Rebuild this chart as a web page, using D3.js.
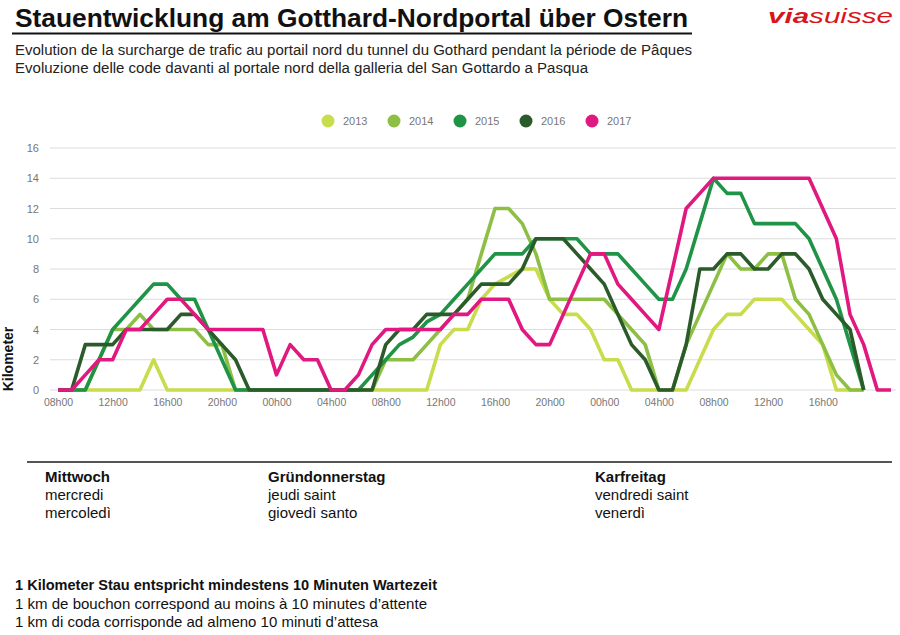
<!DOCTYPE html>
<html>
<head>
<meta charset="utf-8">
<script src="https://cdn.jsdelivr.net/npm/d3@7"></script>
<style>
  html, body { margin: 0; padding: 0; background: #fff; }
  svg { display: block; font-family: "Liberation Sans", Arial, Helvetica, sans-serif; }
</style>
</head>
<body>
<script>
// ---------- DATA ----------
const years = ["2013", "2014", "2015", "2016", "2017"];
const colors = ["#c8dc4c", "#8cbf44", "#1f9446", "#2b5b2a", "#e0187f"];

// hourly values (km), index 0 = Wednesday 08h00
const v2013 = [0,0,0,0,0,0,0,2,0,0,
  0,0,0,0,0,0,0,0,0,0,
  0,0,0,0,0,0,0,0,3,4,
  4,6,7,7.5,8,8,6,5,5,4,
  2,2,0,0,0,0,0,2,4,5,
  5,6,6,6,5,4,3,0,0,0];
const v2014 = [0,0,0,2,4,4,5,4,4,4,
  4,3,3,0,0,0,0,0,0,0,
  0,0,0,0,2,2,2,3,4,5,
  6,9,12,12,11,9,6,6,6,6,
  6,5,4,3,0,0,3,5,7,9,
  8,8,9,9,6,5,3,1,0,0];
const v2015 = [0,0,0,2,4,5,6,7,7,6,
  6,4,2,0,0,0,0,0,0,0,
  0,0,0,1,2,3,3.5,4.5,5,6,
  7,8,9,9,9,10,10,10,10,9,
  9,9,8,7,6,6,8,11,14,13,
  13,11,11,11,11,10,8,6,3,0];
const v2016 = [0,0,3,3,3,4,4,4,4,5,
  5,4,3,2,0,0,0,0,0,0,
  0,0,0,0,3,4,4,5,5,5,
  6,7,7,7,8,10,10,10,9,8,
  7,5,3,2,0,0,3,8,8,9,
  9,8,8,9,9,8,6,5,4,0];
const v2017 = [0,0,1,2,2,4,4,5,6,6,
  5,4,4,4,4,4,1,3,2,2,
  0,0,1,3,4,4,4,4,4,5,
  5,6,6,6,4,3,3,5,7,9,
  9,7,6,5,4,8,12,13,14,14,
  14,14,14,14,14,14,12,10,5,3,
  0,0];
const seriesValues = [v2013, v2014, v2015, v2016, v2017];

const xTickLabels = ["08h00","12h00","16h00","20h00","00h00","04h00","08h00","12h00",
  "16h00","20h00","00h00","04h00","08h00","12h00","16h00"];
const yTicks = [0, 2, 4, 6, 8, 10, 12, 14, 16];

const days = [
  { de: "Mittwoch", fr: "mercredi", it: "mercoledì" },
  { de: "Gründonnerstag", fr: "jeudi saint", it: "giovedì santo" },
  { de: "Karfreitag", fr: "vendredi saint", it: "venerdì" }
];

// ---------- DRAW ----------
const W = 900, H = 635;
const svg = d3.select("body").append("svg").attr("width", W).attr("height", H);
svg.append("rect").attr("width", W).attr("height", H).attr("fill", "#fff");

// Title
svg.append("text").attr("x", 15).attr("y", 27)
  .attr("font-size", 26).attr("font-weight", "bold").attr("fill", "#111")
  .attr("textLength", 673).attr("lengthAdjust", "spacingAndGlyphs")
  .text("Stauentwicklung am Gotthard-Nordportal über Ostern");
svg.append("line").attr("x1", 12).attr("x2", 692).attr("y1", 33.5).attr("y2", 33.5)
  .attr("stroke", "#111").attr("stroke-width", 2.2);

// Logo
const logo = svg.append("text").attr("x", 768).attr("y", 23)
  .attr("font-size", 21).attr("font-weight", "bold").attr("font-style", "italic")
  .attr("fill", "#d9151c").attr("textLength", 125).attr("lengthAdjust", "spacingAndGlyphs");
logo.append("tspan").text("via");
logo.append("tspan").attr("font-weight", "normal").text("suisse");

// Subtitles
svg.append("text").attr("x", 15).attr("y", 55).attr("font-size", 14).attr("fill", "#222")
  .attr("textLength", 677).attr("lengthAdjust", "spacingAndGlyphs")
  .text("Evolution de la surcharge de trafic au portail nord du tunnel du Gothard pendant la période de Pâques");
svg.append("text").attr("x", 15).attr("y", 73).attr("font-size", 14).attr("fill", "#222")
  .attr("textLength", 573).attr("lengthAdjust", "spacingAndGlyphs")
  .text("Evoluzione delle code davanti al portale nord della galleria del San Gottardo a Pasqua");

// Scales
const nPts = v2017.length;
const x = d3.scaleLinear().domain([0, nPts - 1]).range([58, 891]);
const y = d3.scaleLinear().domain([0, 16]).range([390, 148]);

// Grid
svg.append("g").selectAll("line").data(yTicks).join("line")
  .attr("x1", 50).attr("x2", 896)
  .attr("y1", d => y(d)).attr("y2", d => y(d))
  .attr("stroke", "#dcdcdc").attr("stroke-width", 1);

// Y axis labels
const yAxis = d3.axisLeft(y).tickValues(yTicks).tickSize(0).tickPadding(0);
const gy = svg.append("g").attr("transform", "translate(39,0)").call(yAxis);
gy.select(".domain").remove();
gy.selectAll("text").attr("font-size", 11).attr("fill", "#777")
  .attr("font-family", "'Liberation Sans', Arial, sans-serif");

// X axis labels
const xTickVals = xTickLabels.map((d, i) => i * 4);
const xAxis = d3.axisBottom(x).tickValues(xTickVals)
  .tickFormat((d, i) => xTickLabels[i]).tickSize(0).tickPadding(0);
const gx = svg.append("g").attr("transform", "translate(0,399)").call(xAxis);
gx.select(".domain").remove();
gx.selectAll("text").attr("font-size", 10.5).attr("fill", "#777")
  .attr("font-family", "'Liberation Sans', Arial, sans-serif");

// Y axis title
svg.append("text").attr("transform", "translate(13,359) rotate(-90)")
  .attr("text-anchor", "middle").attr("font-size", 14).attr("font-weight", "bold")
  .attr("fill", "#111").text("Kilometer");

// Lines
const line = d3.line().x((d, i) => x(i)).y(d => y(d));
svg.append("g").selectAll("path").data(seriesValues).join("path")
  .attr("d", d => line(d))
  .attr("fill", "none")
  .attr("stroke", (d, i) => colors[i])
  .attr("stroke-width", 3.6)
  .attr("stroke-linejoin", "round")
  .attr("stroke-linecap", "butt");

// Legend
const lg = svg.append("g").selectAll("g").data(years).join("g")
  .attr("transform", (d, i) => `translate(${328 + i * 66},121)`);
lg.append("circle").attr("r", 6.5).attr("fill", (d, i) => colors[i]);
lg.append("text").attr("x", 15).attr("y", 4).attr("font-size", 11).attr("fill", "#777").text(d => d);

// Separator line
svg.append("line").attr("x1", 27).attr("x2", 892).attr("y1", 462).attr("y2", 462)
  .attr("stroke", "#555").attr("stroke-width", 2);

// Day labels
const dayX = [45, 268, 595];
const dg = svg.append("g").selectAll("g").data(days).join("g")
  .attr("transform", (d, i) => `translate(${dayX[i]},0)`);
dg.append("text").attr("y", 482).attr("font-size", 15).attr("font-weight", "bold").attr("fill", "#111").text(d => d.de);
dg.append("text").attr("y", 500).attr("font-size", 15).attr("fill", "#111").text(d => d.fr);
dg.append("text").attr("y", 518).attr("font-size", 15).attr("fill", "#111").text(d => d.it);

// Footer
svg.append("text").attr("x", 15).attr("y", 590).attr("font-size", 15).attr("font-weight", "bold").attr("fill", "#111")
  .attr("textLength", 422).attr("lengthAdjust", "spacingAndGlyphs")
  .text("1 Kilometer Stau entspricht mindestens 10 Minuten Wartezeit");
svg.append("text").attr("x", 15).attr("y", 609).attr("font-size", 15).attr("fill", "#111")
  .attr("textLength", 412).attr("lengthAdjust", "spacingAndGlyphs")
  .text("1 km de bouchon correspond au moins à 10 minutes d’attente");
svg.append("text").attr("x", 15).attr("y", 627).attr("font-size", 15).attr("fill", "#111")
  .attr("textLength", 363).attr("lengthAdjust", "spacingAndGlyphs")
  .text("1 km di coda corrisponde ad almeno 10 minuti d’attesa");
</script>
</body>
</html>
